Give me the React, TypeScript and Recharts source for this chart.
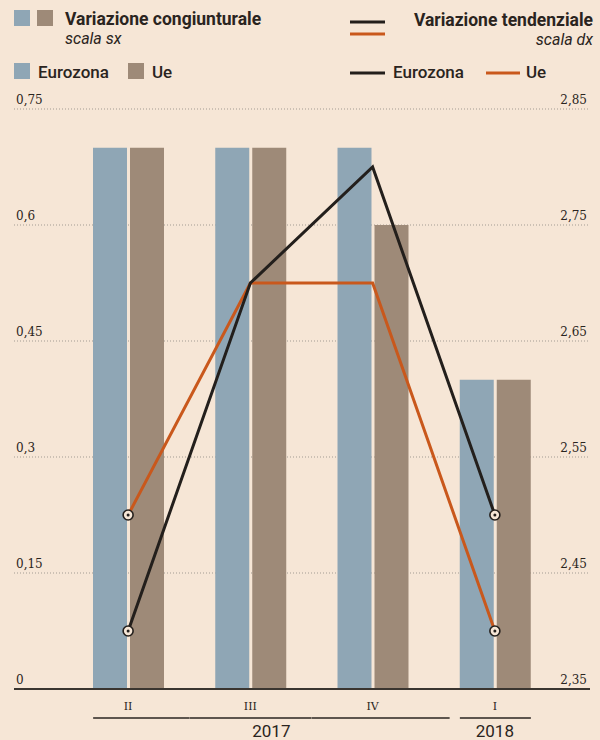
import React from 'react';
import { ComposedChart, Bar, Line, XAxis, YAxis, CartesianGrid } from 'recharts';

const quarters = ['II', 'III', 'IV', 'I'];
const years = ['2017', '2017', '2017', '2018'];
const congEurozona = [0.7, 0.7, 0.7, 0.4];
const congUe = [0.7, 0.7, 0.6, 0.4];
const tendEurozona = [2.4, 2.7, 2.8, 2.5];
const tendUe = [2.5, 2.7, 2.7, 2.4];
const leftTicks = [0, 0.15, 0.3, 0.45, 0.6, 0.75];
const rightTicks = [2.35, 2.45, 2.55, 2.65, 2.75, 2.85];

const data = quarters.map((q, i) => ({
  q,
  year: years[i],
  ce: congEurozona[i],
  cu: congUe[i],
  te: tendEurozona[i],
  tu: tendUe[i],
}));

const BG = '#f6e6d6';
const BLUE = '#8fa6b5';
const BROWN = '#9e8a78';
const DARK = '#231f1c';
const ORANGE = '#c9581c';
const TXT = '#2a2420';
const SANS = 'Roboto, "Noto Sans", sans-serif';
const SERIF = '"DejaVu Serif", "Liberation Serif", serif';

const fmt = (v: number) => String(Math.round(v * 100) / 100).replace('.', ',');

const LeftTick = (props: any) => (
  <text x={16} y={props.y - 5} textAnchor="start" fontFamily={SERIF} fontSize={12} fill={TXT}>
    {fmt(props.payload.value)}
  </text>
);
const RightTick = (props: any) => (
  <text x={587} y={props.y - 5} textAnchor="end" fontFamily={SERIF} fontSize={12} fill={TXT}>
    {fmt(props.payload.value)}
  </text>
);

const XTick = (props: any) => {
  const { x, y, index } = props;
  const label = quarters[index];
  let x1 = x - 61;
  let x2 = x + 61;
  if (index === 0) x1 = x - 35;
  if (index === 2) x2 = x + 77;
  if (index === 3) { x1 = x - 35; x2 = x + 36; }
  const yearLabel = index === 3 ? years[3] : index === 1 ? years[1] : null;
  const yearX = index === 1 ? x + 21 : x;
  return (
    <g>
      <text x={x} y={y + 13} textAnchor="middle" fontFamily={SERIF} fontSize={11} fill={TXT}>
        {label}
      </text>
      <line x1={x1} x2={x2} y1={y + 21} y2={y + 21} stroke={TXT} strokeWidth={1.5} />
      {yearLabel && (
        <text x={yearX} y={y + 40} textAnchor="middle" fontFamily={SANS} fontSize={17} fill={TXT}>
          {yearLabel}
        </text>
      )}
    </g>
  );
};

const makeDot = (color: string) => (props: any) => {
  const { cx, cy, index } = props;
  if (index !== 0 && index !== quarters.length - 1) return <g key={index} />;
  return (
    <g key={index}>
      <circle cx={cx} cy={cy} r={5} fill={BG} stroke={DARK} strokeWidth={1.6} />
      <circle cx={cx} cy={cy} r={1.5} fill={DARK} />
    </g>
  );
};

export default function App() {
  return (
    <div style={{ position: 'absolute', left: 0, top: 0, width: 600, height: 740, background: BG, overflow: 'hidden' }}>
      <svg width={600} height={100} style={{ position: 'absolute', left: 0, top: 0 }}>
        <rect x={14} y={10} width={16} height={16} fill={BLUE} />
        <rect x={37} y={10} width={16} height={16} fill={BROWN} />
        <text x={65} y={25} fontFamily={SANS} fontWeight={700} fontSize={17.5} fill={TXT}>Variazione congiunturale</text>
        <text x={65} y={44} fontFamily={SANS} fontStyle="italic" fontSize={16} fill={TXT}>scala sx</text>
        <rect x={14} y={63} width={16} height={16} fill={BLUE} />
        <text x={38} y={78} fontFamily={SANS} fontWeight={500} fontSize={17} fill={TXT}>Eurozona</text>
        <rect x={128} y={63} width={16} height={16} fill={BROWN} />
        <text x={152} y={78} fontFamily={SANS} fontWeight={500} fontSize={17} fill={TXT}>Ue</text>

        <line x1={350} x2={385} y1={22} y2={22} stroke={DARK} strokeWidth={3} />
        <line x1={350} x2={385} y1={34} y2={34} stroke={ORANGE} strokeWidth={3} />
        <text x={593} y={26} textAnchor="end" fontFamily={SANS} fontWeight={700} fontSize={17.5} fill={TXT}>Variazione tendenziale</text>
        <text x={593} y={45} textAnchor="end" fontFamily={SANS} fontStyle="italic" fontSize={16} fill={TXT}>scala dx</text>
        <line x1={350} x2={385} y1={73} y2={73} stroke={DARK} strokeWidth={3} />
        <text x={393} y={78} fontFamily={SANS} fontWeight={500} fontSize={17} fill={TXT}>Eurozona</text>
        <line x1={486} x2={520} y1={73} y2={73} stroke={ORANGE} strokeWidth={3} />
        <text x={526} y={78} fontFamily={SANS} fontWeight={500} fontSize={17} fill={TXT}>Ue</text>
      </svg>
      <ComposedChart
        width={600}
        height={740}
        data={data}
        margin={{ top: 109, right: 9, bottom: 0, left: 13 }}
        barGap={3}
        barSize={34}
        style={{ position: 'absolute', left: 0, top: 0 }}
      >
        <CartesianGrid yAxisId="left" vertical={false} stroke="#a29b92" strokeDasharray="1 2" />
        <XAxis
          dataKey="q"
          height={51}
          padding={{ left: 53, right: 34 }}
          tickLine={false}
          axisLine={{ stroke: '#3a3530', strokeWidth: 2 }}
          tick={<XTick />}
          interval={0}
        />
        <YAxis
          yAxisId="left"
          width={1}
          domain={[0, 0.75]}
          ticks={leftTicks}
          interval={0}
          axisLine={false}
          tickLine={false}
          tick={<LeftTick />}
        />
        <YAxis
          yAxisId="right"
          orientation="right"
          width={1}
          domain={[2.35, 2.85]}
          ticks={rightTicks}
          interval={0}
          axisLine={false}
          tickLine={false}
          tick={<RightTick />}
        />
        <Bar yAxisId="left" dataKey="ce" fill={BLUE} isAnimationActive={false} />
        <Bar yAxisId="left" dataKey="cu" fill={BROWN} isAnimationActive={false} />
        <Line yAxisId="right" dataKey="tu" stroke={ORANGE} strokeWidth={3} type="linear" dot={makeDot(ORANGE)} isAnimationActive={false} />
        <Line yAxisId="right" dataKey="te" stroke={DARK} strokeWidth={3} type="linear" dot={makeDot(DARK)} isAnimationActive={false} />
      </ComposedChart>
    </div>
  );
}
